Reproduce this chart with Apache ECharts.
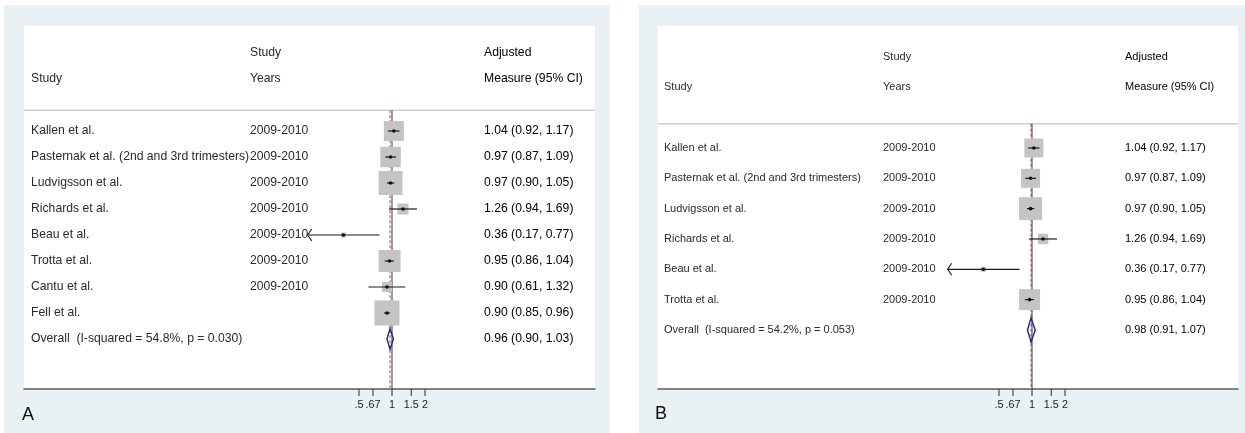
<!DOCTYPE html>
<html>
<head>
<meta charset="utf-8">
<title>Forest plots A and B</title>
<script src="https://cdn.jsdelivr.net/npm/echarts@6/dist/echarts.min.js"></script>
<style>
  html, body { margin: 0; padding: 0; background: #fff; }
  #chart { width: 1245px; height: 433px; }
</style>
</head>
<body>
<div id="chart"></div>
<script>
  // ---- panel A data ----
  const studiesA = ['Kallen et al.', 'Pasternak et al. (2nd and 3rd trimesters)', 'Ludvigsson et al.', 'Richards et al.', 'Beau et al.', 'Trotta et al.', 'Cantu et al.', 'Fell et al.']
  const yearsA = ['2009-2010', '2009-2010', '2009-2010', '2009-2010', '2009-2010', '2009-2010', '2009-2010', '']
  const estA = [1.04, 0.97, 0.97, 1.26, 0.36, 0.95, 0.90, 0.90]
  const lciA = [0.92, 0.87, 0.90, 0.94, 0.17, 0.86, 0.61, 0.85]
  const uciA = [1.17, 1.09, 1.05, 1.69, 0.77, 1.04, 1.32, 0.96]
  const weightA = [14.5, 15.3, 20.9, 4.4, 0.9, 17.6, 3.6, 22.7]
  const overallA = [0.96, 0.90, 1.03]
  const overallLabelA = 'Overall  (I-squared = 54.8%, p = 0.030)'

  // ---- panel B data ----
  const studiesB = ['Kallen et al.', 'Pasternak et al. (2nd and 3rd trimesters)', 'Ludvigsson et al.', 'Richards et al.', 'Beau et al.', 'Trotta et al.']
  const yearsB = ['2009-2010', '2009-2010', '2009-2010', '2009-2010', '2009-2010', '2009-2010']
  const estB = [1.04, 0.97, 0.97, 1.26, 0.36, 0.95]
  const lciB = [0.92, 0.87, 0.90, 0.94, 0.17, 0.86]
  const uciB = [1.17, 1.09, 1.05, 1.69, 0.77, 1.04]
  const weightB = [19.8, 19.8, 29.0, 6.0, 1.4, 24.1]
  const overallB = [0.98, 0.91, 1.07]
  const overallLabelB = 'Overall  (I-squared = 54.2%, p = 0.053)'

  const tickValues = [0.5, 0.67, 1, 1.5, 2]
  const tickLabels = ['.5', '.67', '1', '1.5', '2']

  const FONT = '"Liberation Sans", Arial, sans-serif'
  const PX_PER_LN = 47.6

  // layout of the two panels (pixels)
  const panels = [
    { label: 'A', bg: [4, 5, 606, 428], grid: [24, 26, 571, 363], x0: 392, rowY0: 53, rowStep: 26, cols: [7, 226, 460], maxSide: 25, labelAt: [22, 415], fontSize: 12.2,
      studies: studiesA, years: yearsA, est: estA, lci: lciA, uci: uciA, weight: weightA, overall: overallA, overallLabel: overallLabelA },
    { label: 'B', bg: [639, 5, 606, 428], grid: [658, 26, 580, 363], x0: 1032, rowY0: 57, rowStep: 30.33, cols: [6, 225, 467], maxSide: 23, labelAt: [655, 414], fontSize: 11,
      studies: studiesB, years: yearsB, est: estB, lci: lciB, uci: uciB, weight: weightB, overall: overallB, overallLabel: overallLabelB }
  ]

  const SEP_ROW = 2.2
  const FIRST_ROW = 3
  const fmt = (e, l, u) => `${e.toFixed(2)} (${l.toFixed(2)}, ${u.toFixed(2)})`

  const grids = [], xAxes = [], yAxes = [], series = [], graphics = []

  panels.forEach((p, pi) => {
    const [gl, gt, gw, gh] = p.grid
    const xMin = (gl - p.x0) / PX_PER_LN
    const xMax = (gl + gw - p.x0) / PX_PER_LN
    const yMin = (gt - p.rowY0) / p.rowStep
    const yMax = (gt + gh - p.rowY0) / p.rowStep
    const overallRow = FIRST_ROW + p.studies.length
    const maxW = Math.max(...p.weight)

    graphics.push(
      { type: 'rect', shape: { x: p.bg[0], y: p.bg[1], width: p.bg[2], height: p.bg[3] }, style: { fill: '#e9f1f4' } },
      { type: 'rect', shape: { x: gl, y: gt, width: gw, height: gh }, style: { fill: '#ffffff' } },
      { type: 'text', x: p.labelAt[0], y: p.labelAt[1], style: { text: p.label, fontSize: 18, fontFamily: FONT, fill: '#111', verticalAlign: 'middle' } }
    )

    grids.push({ left: gl, top: gt, width: gw, height: gh, show: false })
    xAxes.push({
      gridIndex: pi, type: 'value', min: xMin, max: xMax,
      axisLine: { show: true, onZero: false, lineStyle: { color: '#5a5a5a', width: 1.5 } },
      axisTick: { show: false }, axisLabel: { show: false }, splitLine: { show: false }
    })
    yAxes.push({
      gridIndex: pi, type: 'value', min: yMin, max: yMax, inverse: true, show: false
    })

    // reference lines: header separator, overall dashed line, null line
    series.push({
      type: 'custom', xAxisIndex: pi, yAxisIndex: pi, silent: true,
      data: [[0, SEP_ROW]],
      renderItem: (params, api) => {
        const sepL = api.coord([xMin, SEP_ROW])
        const sepR = api.coord([xMax, SEP_ROW])
        const ovTop = api.coord([Math.log(p.overall[0]), SEP_ROW])
        const ovBot = api.coord([Math.log(p.overall[0]), yMax])
        const nTop = api.coord([0, SEP_ROW])
        const nBot = api.coord([0, yMax])
        return { type: 'group', children: [
          { type: 'line', shape: { x1: sepL[0], y1: sepL[1], x2: sepR[0], y2: sepR[1] }, style: { stroke: '#cfcfcf', lineWidth: 1.5 } },
          { type: 'line', shape: { x1: ovTop[0], y1: ovTop[1], x2: ovBot[0], y2: ovBot[1] }, style: { stroke: '#cf8f98', lineWidth: 1.6, lineDash: [3, 2] } },
          { type: 'line', shape: { x1: nTop[0], y1: nTop[1], x2: nBot[0], y2: nBot[1] }, style: { stroke: '#3a3a3a', lineWidth: 1 } }
        ] }
      }
    })

    // study squares, CIs and point estimates
    series.push({
      type: 'custom', xAxisIndex: pi, yAxisIndex: pi, silent: true,
      data: p.studies.map((s, i) => [Math.log(p.est[i]), FIRST_ROW + i, Math.log(p.lci[i]), Math.log(p.uci[i]), p.weight[i]]),
      renderItem: (params, api) => {
        const row = api.value(1)
        const pt = api.coord([api.value(0), row])
        const lo = api.coord([api.value(2), row])
        const hi = api.coord([api.value(3), row])
        const side = p.maxSide * Math.sqrt(api.value(4) / maxW)
        const kids = [
          { type: 'rect', shape: { x: pt[0] - side / 2, y: pt[1] - side / 2, width: side, height: side }, style: { fill: '#c4c4c4' } },
          { type: 'line', shape: { x1: lo[0], y1: lo[1], x2: hi[0], y2: hi[1] }, style: { stroke: '#1a1a1a', lineWidth: 1.2 } },
          { type: 'circle', shape: { cx: pt[0], cy: pt[1], r: 1.8 }, style: { fill: '#111' } }
        ]
        if (Math.exp(api.value(2)) < tickValues[0]) {
          kids.push({ type: 'polyline', shape: { points: [[lo[0] + 4, lo[1] - 6], [lo[0], lo[1]], [lo[0] + 4, lo[1] + 6]] }, style: { stroke: '#1a1a1a', lineWidth: 1.1, fill: null } })
        }
        return { type: 'group', children: kids }
      }
    })

    // overall diamond
    series.push({
      type: 'custom', xAxisIndex: pi, yAxisIndex: pi, silent: true,
      data: [[Math.log(p.overall[0]), overallRow, Math.log(p.overall[1]), Math.log(p.overall[2])]],
      renderItem: (params, api) => {
        const row = api.value(1)
        const c = api.coord([api.value(0), row])
        const l = api.coord([api.value(2), row])
        const r = api.coord([api.value(3), row])
        const h = p.rowStep * 0.4
        return { type: 'polygon', shape: { points: [[l[0], c[1]], [c[0], c[1] - h], [r[0], c[1]], [c[0], c[1] + h]] }, style: { stroke: '#1f2a7a', lineWidth: 1.4, fill: null } }
      }
    })

    // text columns
    const texts = [
      [1, 0, 'Study'], [0, 1, 'Study'], [1, 1, 'Years'], [0, 2, 'Adjusted'], [1, 2, 'Measure (95% CI)']
    ]
    p.studies.forEach((s, i) => {
      texts.push([FIRST_ROW + i, 0, s])
      if (p.years[i]) texts.push([FIRST_ROW + i, 1, p.years[i]])
      texts.push([FIRST_ROW + i, 2, fmt(p.est[i], p.lci[i], p.uci[i])])
    })
    texts.push([overallRow, 0, p.overallLabel], [overallRow, 2, fmt(p.overall[0], p.overall[1], p.overall[2])])

    series.push({
      type: 'custom', xAxisIndex: pi, yAxisIndex: pi, silent: true,
      data: texts.map(t => [xMin, t[0]]),
      renderItem: (params, api) => {
        const t = texts[params.dataIndex]
        const y = api.coord([xMin, api.value(1)])[1]
        return { type: 'text', x: gl + p.cols[t[1]], y: y, style: { text: t[2], fontSize: p.fontSize, fontFamily: FONT, fill: t[1] === 2 ? '#000' : '#2a2a2a', verticalAlign: 'middle', align: 'left' } }
      }
    })

    // axis ticks and labels on the log scale
    series.push({
      type: 'custom', xAxisIndex: pi, yAxisIndex: pi, silent: true,
      data: tickValues.map(v => [Math.log(v), yMax]),
      renderItem: (params, api) => {
        const c = api.coord([api.value(0), api.value(1)])
        return { type: 'group', children: [
          { type: 'line', shape: { x1: c[0], y1: c[1], x2: c[0], y2: c[1] + 7 }, style: { stroke: '#4a4a4a', lineWidth: 1.2 } },
          { type: 'text', x: c[0], y: c[1] + 16, style: { text: tickLabels[params.dataIndex], fontSize: 10.8, fontFamily: FONT, fill: '#222', align: 'center', verticalAlign: 'middle' } }
        ] }
      }
    })
  })

  const chart = echarts.init(document.getElementById('chart'))
  chart.setOption({
    animation: false,
    backgroundColor: '#ffffff',
    graphic: { elements: graphics },
    grid: grids,
    xAxis: xAxes,
    yAxis: yAxes,
    series: series
  })
</script>
</body>
</html>
